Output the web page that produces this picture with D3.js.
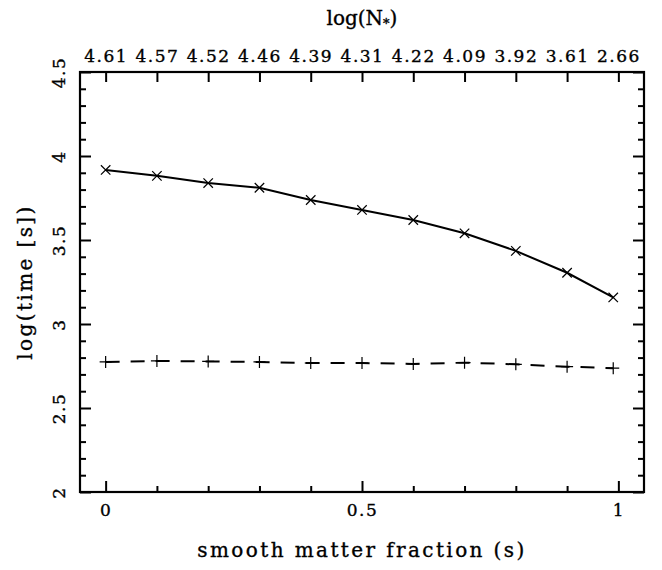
<!DOCTYPE html>
<meta charset="utf-8">
<style>
body {
  margin: 0;
  background: #fff;
}
svg {
  display: block;
}
.axis path {
  display: none;
}
.axis line {
  stroke: #000;
  stroke-width: 2;
}
.axis text {
  font-family: "DejaVu Serif", serif;
  font-size: 17px;
  letter-spacing: 1.5px;
  fill: #000;
  stroke: #000;
  stroke-width: 0.35px;
}
.title {
  font-family: "DejaVu Serif", serif;
  font-size: 20px;
  fill: #000;
  stroke: #000;
  stroke-width: 0.35px;
}
</style>
<body>
<script src="https://d3js.org/d3.v7.min.js"></script>
<script>

// smooth matter fraction (bottom axis)
var fraction = [0, 0.1, 0.2, 0.3, 0.4, 0.5, 0.6, 0.7, 0.8, 0.9, 0.99];

// upper curve (crosses, solid line)
var timeSolid = [3.917, 3.882, 3.839, 3.811, 3.738, 3.679, 3.619, 3.540, 3.435, 3.305, 3.158];

// lower curve (plus signs, dashed line)
var timeDashed = [2.774, 2.780, 2.777, 2.774, 2.768, 2.768, 2.762, 2.770, 2.760, 2.746, 2.737];

// top axis: log(N*) at each tenth of s
var topTicks = [0, 0.1, 0.2, 0.3, 0.4, 0.5, 0.6, 0.7, 0.8, 0.9, 1.0];
var topLabels = ["4.61", "4.57", "4.52", "4.46", "4.39", "4.31", "4.22", "4.09", "3.92", "3.61", "2.66"];

var bottomMajor = [0, 0.5, 1];
var bottomMinor = [0.1, 0.2, 0.3, 0.4, 0.6, 0.7, 0.8, 0.9];
var leftMajor = [2, 2.5, 3, 3.5, 4, 4.5];
var leftMinor = [2.1, 2.2, 2.3, 2.4, 2.6, 2.7, 2.8, 2.9, 3.1, 3.2, 3.3, 3.4,
                 3.6, 3.7, 3.8, 3.9, 4.1, 4.2, 4.3, 4.4];

var width = 662, height = 570;
var margin = {top: 72, right: 18, bottom: 78, left: 80};

var svg = d3.select("body").append("svg")
    .attr("width", width)
    .attr("height", height);

var x = d3.scaleLinear()
    .domain([-0.05, 1.05])
    .range([margin.left, width - margin.right]);

var y = d3.scaleLinear()
    .domain([2, 4.5])
    .range([height - margin.bottom, margin.top]);

var fmt = d3.format("");

// bottom axis: major and minor ticks pointing inward
svg.append("g")
   .attr("class", "axis")
   .attr("transform", "translate(0," + y.range()[0] + ")")
   .call(d3.axisBottom(x).tickValues(bottomMajor).tickSize(-11).tickPadding(12).tickFormat(fmt));

svg.append("g")
   .attr("class", "axis")
   .attr("transform", "translate(0," + y.range()[0] + ")")
   .call(d3.axisBottom(x).tickValues(bottomMinor).tickSize(-6).tickFormat(""));

// top axis with log(N*) labels
svg.append("g")
   .attr("class", "axis")
   .attr("transform", "translate(0," + y.range()[1] + ")")
   .call(d3.axisTop(x).tickValues(topTicks).tickSize(-10).tickPadding(10)
         .tickFormat(function(d, i) { return topLabels[i]; }));

// left axis, labels rotated
var leftAxis = svg.append("g")
   .attr("class", "axis")
   .attr("transform", "translate(" + x.range()[0] + ",0)")
   .call(d3.axisLeft(y).tickValues(leftMajor).tickSize(-11).tickFormat(fmt));

leftAxis.selectAll("text")
   .attr("x", 0)
   .attr("y", -15)
   .attr("dy", 0)
   .attr("text-anchor", "middle")
   .attr("transform", "rotate(-90)");

svg.append("g")
   .attr("class", "axis")
   .attr("transform", "translate(" + x.range()[0] + ",0)")
   .call(d3.axisLeft(y).tickValues(leftMinor).tickSize(-6).tickFormat(""));

// right axis, ticks only
svg.append("g")
   .attr("class", "axis")
   .attr("transform", "translate(" + x.range()[1] + ",0)")
   .call(d3.axisRight(y).tickValues(leftMajor).tickSize(-11).tickFormat(""));

svg.append("g")
   .attr("class", "axis")
   .attr("transform", "translate(" + x.range()[1] + ",0)")
   .call(d3.axisRight(y).tickValues(leftMinor).tickSize(-6).tickFormat(""));

// frame
svg.append("rect")
   .attr("x", x.range()[0])
   .attr("y", y.range()[1])
   .attr("width", x.range()[1] - x.range()[0])
   .attr("height", y.range()[0] - y.range()[1])
   .attr("fill", "none")
   .attr("stroke", "#000")
   .attr("stroke-width", 2.2);

// lines
var line = d3.line()
   .x(function(d) { return x(d[0]); })
   .y(function(d) { return y(d[1]); });

var solidData = d3.zip(fraction, timeSolid);
var dashedData = d3.zip(fraction, timeDashed);

svg.append("path")
   .datum(solidData)
   .attr("d", line)
   .attr("fill", "none")
   .attr("stroke", "#000")
   .attr("stroke-width", 2);

svg.append("path")
   .datum(dashedData)
   .attr("d", line)
   .attr("fill", "none")
   .attr("stroke", "#000")
   .attr("stroke-width", 2)
   .attr("stroke-dasharray", "14,11");

// cross markers
var cross = d3.symbol().type(d3.symbolTimes).size(60);
svg.selectAll(".cross")
   .data(solidData)
   .enter().append("path")
     .attr("class", "cross")
     .attr("d", cross)
     .attr("transform", function(d) { return "translate(" + x(d[0]) + "," + y(d[1]) + ")"; })
     .attr("fill", "none")
     .attr("stroke", "#000")
     .attr("stroke-width", 1.2);

// plus markers
svg.selectAll(".plus")
   .data(dashedData)
   .enter().append("path")
     .attr("class", "plus")
     .attr("d", function() { return "M-6,0H6M0,-6V6"; })
     .attr("transform", function(d) { return "translate(" + x(d[0]) + "," + y(d[1]) + ")"; })
     .attr("fill", "none")
     .attr("stroke", "#000")
     .attr("stroke-width", 1.2);

// titles
svg.append("text")
   .attr("class", "title")
   .attr("x", (x.range()[0] + x.range()[1]) / 2)
   .attr("y", 557)
   .attr("text-anchor", "middle")
   .style("letter-spacing", "2.4px")
   .text("smooth matter fraction (s)");

svg.append("text")
   .attr("class", "title")
   .attr("transform", "translate(32," + (y.range()[0] + y.range()[1]) / 2 + ") rotate(-90)")
   .attr("text-anchor", "middle")
   .style("letter-spacing", "2.4px")
   .text("log(time [s])");

var topTitle = svg.append("text")
   .attr("class", "title")
   .attr("x", (x.range()[0] + x.range()[1]) / 2)
   .attr("y", 25)
   .attr("text-anchor", "middle");
topTitle.append("tspan").text("log(N");
topTitle.append("tspan").attr("font-size", "13px").attr("dy", 3).text("*");
topTitle.append("tspan").attr("dy", -3).text(")");

</script>
</body>
